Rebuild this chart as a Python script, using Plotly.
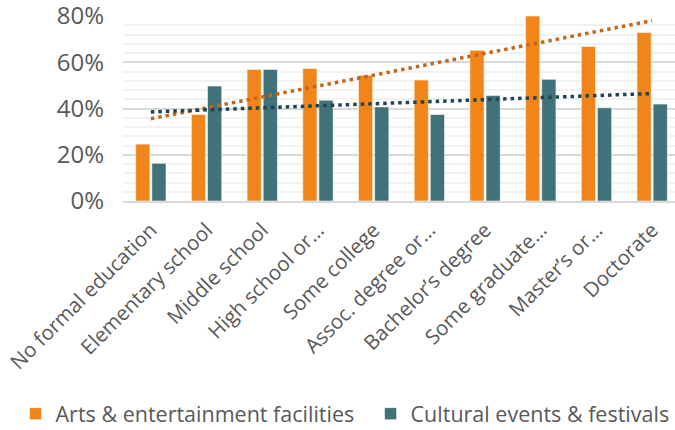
import numpy as np
import plotly.graph_objects as go

categories = ["No formal education", "Elementary school", "Middle school", "High school or…",
              "Some college", "Assoc. degree or…", "Bachelor’s degree", "Some graduate…",
              "Master’s or…", "Doctorate"]
arts = [24.6, 37.4, 56.9, 57.3, 54.4, 52.3, 65.2, 80.0, 66.8, 72.9]
cultural = [16.3, 49.7, 56.9, 43.6, 40.7, 37.4, 45.6, 52.6, 40.3, 41.9]
y_ticks = [0, 20, 40, 60, 80]
y_tick_labels = ["0%", "20%", "40%", "60%", "80%"]

FONT = "Open Sans"
GREY = "#595959"

idx = np.arange(1, len(categories) + 1)
arts_fit = np.polyval(np.polyfit(idx, arts, 1), idx)
cult_fit = np.polyval(np.polyfit(idx, cultural, 1), idx)

fig = go.Figure()
fig.add_bar(x=categories, y=arts, name="Arts & entertainment facilities", legend="legend",
            marker=dict(color="#F0861A", line=dict(color="rgba(255,255,255,0.55)", width=1)))
fig.add_bar(x=categories, y=cultural, name="Cultural events & festivals", legend="legend2",
            marker=dict(color="#41727A", line=dict(color="rgba(255,255,255,0.55)", width=1)))
fig.add_scatter(x=categories, y=arts_fit, mode="lines", showlegend=False,
                line=dict(color="#C4661C", width=3.5, dash="3.5px,4px"))
fig.add_scatter(x=categories, y=cult_fit, mode="lines", showlegend=False,
                line=dict(color="#1E4650", width=3.5, dash="3.5px,4px"))

legend_common = dict(orientation="h", xref="container", xanchor="left",
                     y=0.038, yref="container", yanchor="middle",
                     font=dict(size=21.5, color=GREY, family=FONT), itemwidth=30,
                     bgcolor="rgba(0,0,0,0)")

fig.update_layout(
    width=675, height=430,
    margin=dict(l=123, r=0, t=16, b=229, autoexpand=False),
    paper_bgcolor="white", plot_bgcolor="white",
    barmode="group", bargap=0.42, bargroupgap=0.12,
    hovermode=False,
    font=dict(family=FONT, color=GREY),
    legend=dict(x=0.023, **legend_common),
    legend2=dict(x=0.549, **legend_common),
    showlegend=True,
)
fig.update_xaxes(range=[-0.5, 9.41], tickangle=-45, tickfont=dict(size=20.5, color=GREY),
                 ticklabelstandoff=7,
                 showline=True, linecolor="#D9D9D9", linewidth=2, ticks="", showgrid=False,
                 automargin=False)
fig.update_yaxes(range=[0, 80], tickmode="array", tickvals=y_ticks, ticktext=y_tick_labels,
                 tickfont=dict(size=24, color=GREY), ticklabelstandoff=18,
                 ticklabeloverflow="allow",
                 showgrid=True, gridcolor="#D9D9D9", gridwidth=2, zeroline=False,
                 automargin=False,
                 minor=dict(dtick=4, showgrid=True, gridcolor="#F2F2F2", gridwidth=2))

fig.write_html("out.html", config={"displayModeBar": False},
               post_script="document.body.style.margin='0';document.body.style.padding='0';")
